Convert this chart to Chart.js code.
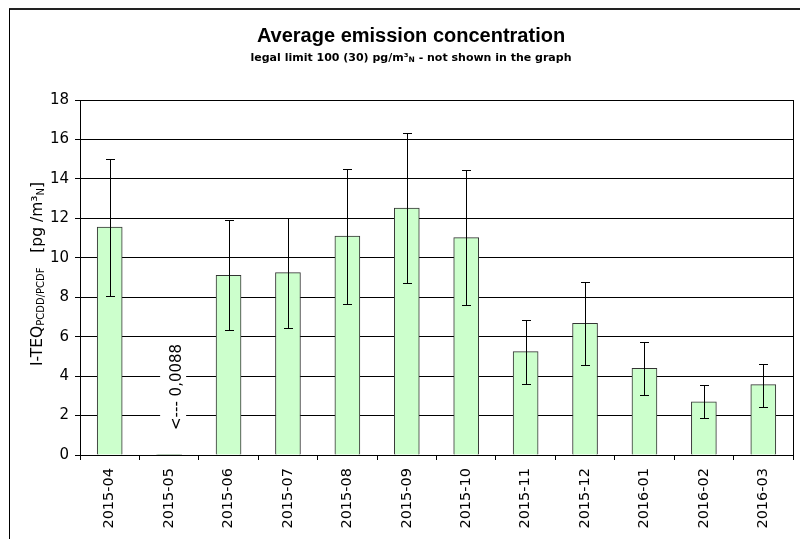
<!DOCTYPE html>
<html>
<head>
<meta charset="utf-8">
<script src="https://cdn.jsdelivr.net/npm/chart.js@4.4.0/dist/chart.umd.min.js"></script>
<style>
  html, body { margin: 0; padding: 0; background: #fff; }
  #wrap { width: 800px; height: 539px; }
</style>
</head>
<body>
<div id="wrap"><canvas id="chart" width="800" height="539"></canvas></div>
<script>
// Data
const months = ['2015-04', '2015-05', '2015-06', '2015-07', '2015-08', '2015-09',
                '2015-10', '2015-11', '2015-12', '2016-01', '2016-02', '2016-03'];
const avgValues = [11.56, 0.0088, 9.11, 9.25, 11.1, 12.52, 11.02, 5.24, 6.68, 4.39, 2.70, 3.57];
const errLow  = [8.08, 0.0088, 6.34, 6.45, 7.64, 8.70, 7.59, 3.60, 4.58, 3.03, 1.86, 2.45];
const errHigh = [15.0, 0.0088, 11.92, 12.03, 14.52, 16.35, 14.43, 6.85, 8.76, 5.73, 3.57, 4.61];
const yTicks = [0, 2, 4, 6, 8, 10, 12, 14, 16, 18];
const noteText = '<--- 0,0088';
const noteIndex = 1;

const tickFont = { family: 'DejaVu Sans', size: 15 };
const xTickFont = { family: 'DejaVu Sans', size: 14.5 };

// draws a line of text made of parts with different fonts / offsets
function drawParts(ctx, parts, x, y, align) {
    let total = 0;
    parts.forEach(p => { ctx.font = p.font; total += ctx.measureText(p.t).width; });
    let cx = align === 'center' ? x - total / 2 : x;
    ctx.textAlign = 'left';
    ctx.textBaseline = 'alphabetic';
    parts.forEach(p => {
        ctx.font = p.font;
        ctx.fillText(p.t, cx, y + (p.dy || 0));
        cx += ctx.measureText(p.t).width;
    });
}

// frame, titles, axis title, plot border
const decorPlugin = {
    id: 'decor',
    beforeDraw(chart) {
        const ctx = chart.ctx;
        ctx.save();
        ctx.fillStyle = '#fff';
        ctx.fillRect(0, 0, chart.width, chart.height);
        ctx.strokeStyle = '#222';
        ctx.lineWidth = 2;
        ctx.beginPath();
        ctx.moveTo(9, 9);
        ctx.lineTo(chart.width, 9);
        ctx.stroke();
        ctx.lineWidth = 1;
        ctx.strokeStyle = '#000';
        ctx.beginPath();
        ctx.moveTo(9.5, 9);
        ctx.lineTo(9.5, chart.height);
        ctx.stroke();
        ctx.restore();
    },
    afterDraw(chart) {
        const ctx = chart.ctx;
        const area = chart.chartArea;
        ctx.save();
        ctx.fillStyle = '#000';

        ctx.font = 'bold 20px "Liberation Sans", Arial';
        ctx.textAlign = 'center';
        ctx.fillText('Average emission concentration', 411, 42);

        drawParts(ctx, [
            { t: 'legal limit 100 (30) pg/m³', font: 'bold 11px "DejaVu Sans"' },
            { t: 'N', font: 'bold 7.5px "DejaVu Sans"', dy: 1 },
            { t: ' - not shown in the graph', font: 'bold 11px "DejaVu Sans"' }
        ], 411, 61, 'center');

        // y axis title
        ctx.save();
        ctx.translate(42, 274);
        ctx.rotate(-Math.PI / 2);
        drawParts(ctx, [
            { t: 'I-TEQ', font: '15.5px "DejaVu Sans"' },
            { t: 'PCDD/PCDF', font: '10px "DejaVu Sans"', dy: 2 },
            { t: '   [pg /m³', font: '15.5px "DejaVu Sans"' },
            { t: 'N', font: '10px "DejaVu Sans"', dy: 2 },
            { t: ']', font: '15.5px "DejaVu Sans"' }
        ], 0, 0, 'center');
        ctx.restore();

        // note for the tiny value
        const xs = chart.scales.x;
        const ys = chart.scales.y;
        const nx = xs.getPixelForValue(noteIndex) + 12;
        const ny = ys.getPixelForValue(3.45);
        ctx.save();
        ctx.font = '15px "DejaVu Sans"';
        const w = ctx.measureText(noteText).width;
        ctx.translate(nx, ny);
        ctx.rotate(-Math.PI / 2);
        ctx.fillStyle = '#fff';
        ctx.fillRect(-w / 2 - 4, -21, w + 8, 26);
        ctx.fillStyle = '#000';
        ctx.textAlign = 'center';
        ctx.textBaseline = 'alphabetic';
        ctx.fillText(noteText, 0, 0);
        ctx.restore();

        // plot border
        ctx.strokeStyle = '#000';
        ctx.lineWidth = 1;
        ctx.strokeRect(Math.round(area.left) + 0.5, Math.round(area.top) + 0.5,
                       Math.round(area.right - area.left), Math.round(area.bottom - area.top));
        ctx.restore();
    }
};

// error bars from errLow / errHigh
const errorBarPlugin = {
    id: 'errorBars',
    afterDatasetsDraw(chart) {
        const ctx = chart.ctx;
        const xs = chart.scales.x;
        const ys = chart.scales.y;
        ctx.save();
        ctx.strokeStyle = '#000';
        ctx.lineWidth = 1;
        months.forEach((m, i) => {
            if (errHigh[i] - errLow[i] < 0.01) return;
            const x = Math.round(xs.getPixelForValue(i)) + 0.5;
            const yl = Math.round(ys.getPixelForValue(errLow[i])) + 0.5;
            const yh = Math.round(ys.getPixelForValue(errHigh[i])) + 0.5;
            ctx.beginPath();
            ctx.moveTo(x, yl); ctx.lineTo(x, yh);
            ctx.moveTo(x - 4.5, yl); ctx.lineTo(x + 4.5, yl);
            ctx.moveTo(x - 4.5, yh); ctx.lineTo(x + 4.5, yh);
            ctx.stroke();
        });
        ctx.restore();
    }
};

new Chart(document.getElementById('chart'), {
    type: 'bar',
    data: {
        labels: months,
        datasets: [{
            data: avgValues,
            backgroundColor: '#ccffcc',
            borderColor: '#333',
            borderWidth: 1,
            barThickness: 25
        }]
    },
    options: {
        responsive: false,
        animation: false,
        layout: { padding: { left: 0, top: 100, right: 7, bottom: 0 } },
        plugins: {
            legend: { display: false },
            tooltip: { enabled: false },
            title: { display: false }
        },
        scales: {
            x: {
                afterFit: s => { s.height = 84; },
                border: { color: '#000', width: 1 },
                grid: { offset: true, drawOnChartArea: false, tickLength: 5, color: '#000' },
                ticks: { color: '#000', font: xTickFont, minRotation: 90, maxRotation: 90, padding: 8 }
            },
            y: {
                min: 0,
                max: 18,
                afterFit: s => { s.width = 80; },
                afterBuildTicks: s => { s.ticks = yTicks.map(v => ({ value: v })); },
                border: { color: '#000', width: 1 },
                grid: { color: '#000', tickLength: 5 },
                ticks: { color: '#000', font: tickFont, padding: 6 }
            }
        }
    },
    plugins: [decorPlugin, errorBarPlugin]
});
</script>
</body>
</html>
